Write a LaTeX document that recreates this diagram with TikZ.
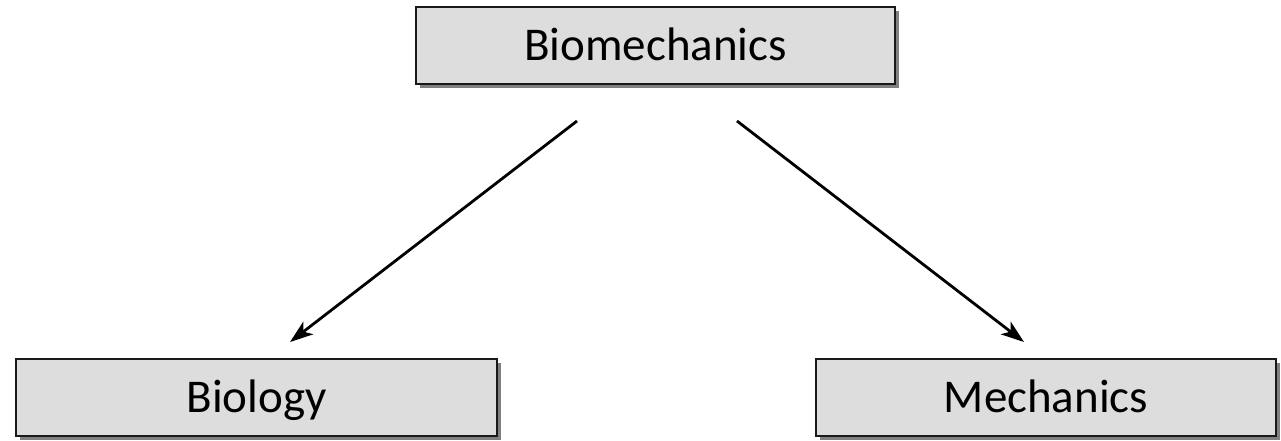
\documentclass[tikz,border=0pt]{standalone}
\usepackage{fontspec}
\setmainfont{Carlito}
\usetikzlibrary{arrows.meta,shadows}
\definecolor{boxfill}{HTML}{DDDDDD}
\definecolor{shadowgray}{HTML}{808080}
\tikzset{
  topic/.style={draw=black!90, line width=2pt, fill=boxfill,
    minimum height=77pt, inner sep=0pt, text height=30pt, text depth=0pt,
    font=\fontsize{47}{56}\selectfont,
    drop shadow={shadow xshift=4pt, shadow yshift=-4pt, fill=shadowgray, opacity=1}},
  link/.style={line width=2.8pt, -{Stealth[length=23pt,width=16pt,inset=6pt]}}
}
\begin{document}
\begin{tikzpicture}[x=1pt,y=-1pt]
\useasboundingbox (0,0) rectangle (1281,440);
\node[topic, minimum width=479pt] (bio) at (655.5,45.5) {Biomechanics};
\node[topic, minimum width=481pt] (biol) at (256.5,397) {Biology};
\node[topic, minimum width=460pt] (mech) at (1046,397) {Mechanics};
\coordinate (s1) at (577,121);
\coordinate (t1) at (290,342);
\coordinate (s2) at (737,121);
\coordinate (t2) at (1024,342);
\draw[link] (s1) -- (t1);
\draw[link] (s2) -- (t2);
\end{tikzpicture}
\end{document}
